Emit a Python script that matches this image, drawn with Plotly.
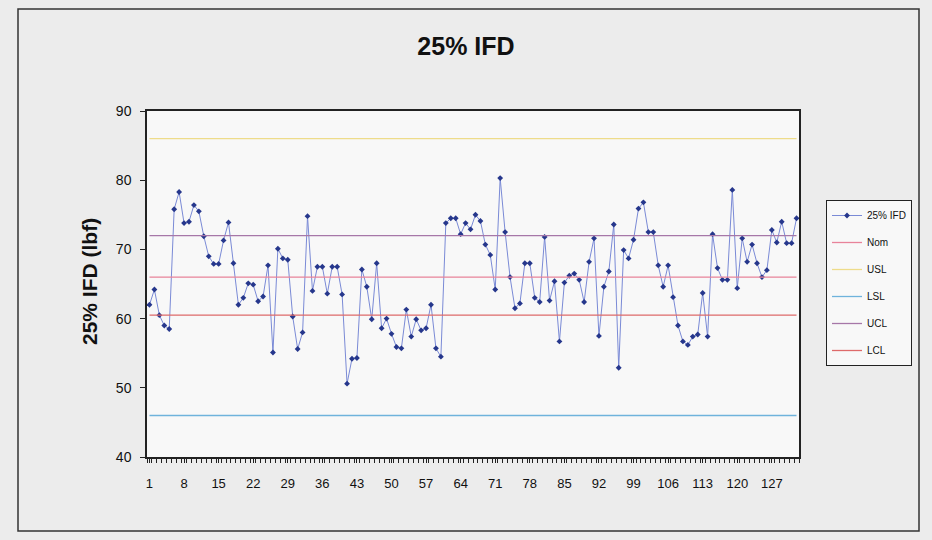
import plotly.graph_objects as go

# 25% IFD readings per sample (lbf)
ifd = [
    62.0, 64.2, 60.5, 59.0, 58.5, 75.8, 78.3, 73.8, 74.0, 76.4,
    75.5, 71.9, 69.0, 67.9, 67.9, 71.3, 73.9, 68.0, 62.0, 63.0,
    65.1, 64.9, 62.5, 63.2, 67.7, 55.1, 70.1, 68.7, 68.5, 60.3,
    55.6, 58.0, 74.8, 64.0, 67.5, 67.5, 63.6, 67.5, 67.5, 63.5,
    50.6, 54.2, 54.3, 67.1, 64.6, 59.9, 68.0, 58.6, 60.0, 57.8,
    55.9, 55.7, 61.3, 57.4, 59.9, 58.3, 58.6, 62.0, 55.7, 54.5,
    73.8, 74.5, 74.5, 72.2, 73.8, 72.9, 75.0, 74.1, 70.7, 69.2,
    64.2, 80.3, 72.5, 66.0, 61.5, 62.2, 68.0, 68.0, 63.0, 62.4,
    71.8, 62.6, 65.4, 56.7, 65.2, 66.2, 66.5, 65.6, 62.4, 68.2,
    71.6, 57.5, 64.6, 66.8, 73.6, 52.9, 69.9, 68.7, 71.4, 75.9,
    76.8, 72.5, 72.5, 67.7, 64.6, 67.7, 63.1, 59.0, 56.7, 56.2,
    57.4, 57.7, 63.7, 57.4, 72.2, 67.3, 65.6, 65.6, 78.6, 64.4,
    71.6, 68.2, 70.7, 68.0, 66.0, 67.0, 72.8, 71.0, 74.0, 70.9,
    70.9, 74.5,
]

# Specification and control limits
NOM = 66.0
USL = 86.0
LSL = 46.0
UCL = 72.0
LCL = 60.5

limit_names = ["Nom", "USL", "LSL", "UCL", "LCL"]
limit_values = [NOM, USL, LSL, UCL, LCL]
limit_colors = ["#e8839a", "#eedc8a", "#6fb3dc", "#a677a8", "#de6a6a"]

samples = list(range(1, len(ifd) + 1))
tick_vals = list(range(1, len(ifd) + 1, 7))
tick_text = [str(v) for v in tick_vals]

FONT = "Liberation Sans, Arial, sans-serif"

fig = go.Figure()

fig.add_trace(go.Scatter(
    x=samples, y=ifd, mode="lines+markers", name="25% IFD",
    legendgroup="ifd",
    line=dict(color="#7a8ad6", width=1),
    marker=dict(symbol="diamond", size=4.5, color="#26378c"),
))

for name, val, col in zip(limit_names, limit_values, limit_colors):
    fig.add_trace(go.Scatter(
        x=samples, y=[val] * len(samples), mode="lines", name=name,
        legendgroup=name,
        line=dict(color=col, width=1.3),
    ))

# plot area in pixels: x 147..799, y 111..457
L, R, T, B = 147, 133, 111, 83
W, H = 932, 540
pw, ph = W - L - R, H - T - B


def px(xp):
    return (xp - L) / pw


def py(yp):
    return (H - B - yp) / ph


fig.update_layout(
    width=W, height=H, autosize=False,
    margin=dict(l=L, r=R, t=T, b=B),
    paper_bgcolor="#ececec",
    plot_bgcolor="#f8f8f8",
    font=dict(family=FONT, color="#111111"),
    title=dict(
        text="<b>25% IFD</b>", x=0.5, xref="container", xanchor="center",
        y=1 - 46 / H, yref="container", yanchor="middle",
        font=dict(size=25, family=FONT, color="#111111"),
    ),
    showlegend=True,
    legend=dict(
        x=px(826), y=py(200), xanchor="left", yanchor="top",
        bgcolor="#f8f8f8", bordercolor="#222222", borderwidth=1,
        font=dict(size=10, family=FONT, color="#111111"),
        tracegroupgap=8, itemwidth=30,
    ),
    xaxis=dict(
        range=[0.5, len(ifd) + 0.5],
        tickmode="array", tickvals=tick_vals, ticktext=tick_text,
        ticks="outside", ticklen=4, tickcolor="#222222",
        showgrid=False, zeroline=False,
        showline=True, linecolor="#222222", linewidth=1.5, mirror=True,
        tickfont=dict(size=13, family=FONT, color="#111111"),
        ticklabelstandoff=10,
        minor=dict(ticks="outside", ticklen=4, tick0=0.5, dtick=1,
                   tickcolor="#222222", tickwidth=1, showgrid=False),
    ),
    yaxis=dict(
        range=[40, 90], dtick=10, tick0=40,
        ticks="outside", ticklen=5, tickcolor="#222222",
        showgrid=False, zeroline=False,
        showline=True, linecolor="#222222", linewidth=1.5, mirror=True,
        tickfont=dict(size=14, family=FONT, color="#111111"),
        ticklabelstandoff=6,
    ),
    annotations=[dict(
        text="<b>25% IFD (lbf)</b>", textangle=-90,
        x=px(89), y=py(282), xref="paper", yref="paper",
        xanchor="center", yanchor="middle", showarrow=False,
        font=dict(size=21, family=FONT, color="#111111"),
    )],
    shapes=[dict(
        type="rect", xref="paper", yref="paper",
        x0=px(18), x1=px(919), y0=py(531), y1=py(9),
        line=dict(color="#333333", width=1.5), layer="below",
    )],
)

fig.write_html("out.html")
